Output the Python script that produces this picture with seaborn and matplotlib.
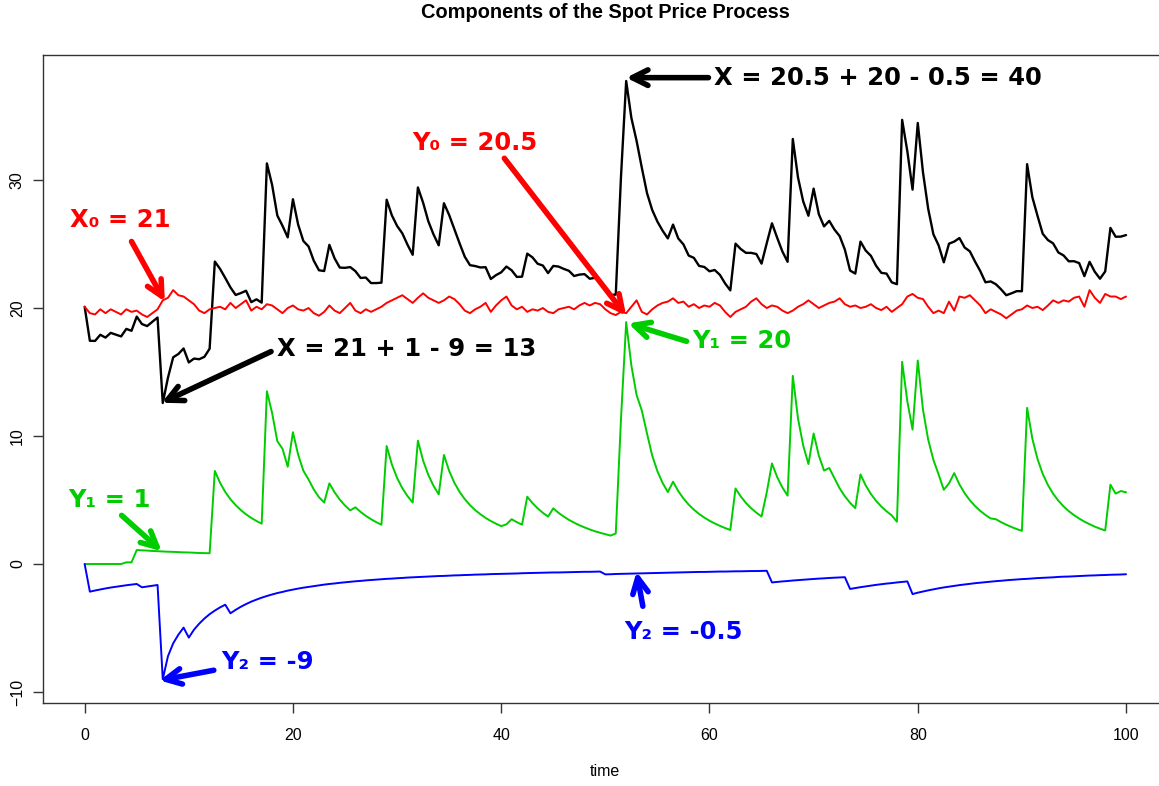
import numpy as np
import matplotlib
matplotlib.use("Agg")
import matplotlib.pyplot as plt
import seaborn as sns

# time grid (step 0.5)
time = np.linspace(0, 100, 201)

# Y0 : mean level (red)
y0_red = [
    20.1, 19.6, 19.5, 19.9, 19.6, 19.9, 19.7, 19.5, 19.9, 19.7, 19.8, 19.5, 19.3, 19.6, 19.9, 20.6, 20.8, 21.4, 21.0, 20.9,
    20.6, 20.3, 19.8, 19.6, 19.9, 20.0, 20.1, 19.9, 20.4, 20.0, 20.3, 20.6, 19.8, 20.1, 19.9, 20.3, 20.2, 19.9, 19.6, 20.0,
    20.2, 19.9, 19.8, 20.0, 19.6, 19.4, 19.7, 20.2, 19.8, 19.6, 20.0, 20.4, 19.8, 19.6, 19.9, 19.7, 19.9, 20.1, 20.4, 20.6,
    20.8, 21.0, 20.7, 20.4, 20.8, 21.15, 20.8, 20.6, 20.4, 20.6, 20.9, 20.7, 20.3, 19.8, 19.6, 19.9, 20.1, 20.4, 19.7, 20.2,
    20.6, 20.9, 20.2, 19.9, 20.1, 19.7, 19.9, 19.8, 20.0, 19.7, 19.6, 19.9, 20.0, 20.1, 19.9, 20.2, 20.4, 20.2, 20.4, 20.3,
    19.9, 19.6, 19.45, 19.7, 19.6, 20.1, 20.6, 19.7, 19.5, 19.9, 20.2, 20.4, 20.5, 20.76, 20.4, 20.5, 20.1, 20.3, 20.0, 20.2,
    20.1, 20.4, 20.2, 19.7, 19.3, 19.7, 19.9, 20.1, 20.5, 20.76, 20.3, 20.0, 20.2, 20.1, 19.8, 19.6, 19.8, 20.1, 20.3, 20.6,
    20.3, 20.0, 20.2, 20.4, 20.5, 20.76, 20.3, 20.1, 20.2, 20.0, 20.1, 20.3, 20.0, 19.84, 20.1, 19.7, 20.0, 20.3, 20.9, 21.1,
    20.8, 20.7, 20.1, 19.6, 19.8, 19.6, 20.5, 19.8, 20.9, 20.8, 21.0, 20.6, 20.2, 19.6, 19.9, 19.7, 19.5, 19.2, 19.5, 19.8,
    19.9, 20.2, 20.0, 20.1, 19.84, 20.2, 20.6, 20.4, 20.6, 20.5, 20.8, 20.9, 20.1, 21.4, 20.8, 20.4, 21.1, 20.9, 20.9, 20.7,
    20.9,
]

# Y1 : positive spikes (green)
y1_green = [
    0, 0, 0, 0, 0, 0, 0, 0, 0.13, 0.13, 1.09, 1.07, 1.05, 1.02, 1.00, 0.98, 0.96, 0.95, 0.93, 0.91,
    0.90, 0.88, 0.86, 0.85, 0.84, 7.27, 6.35, 5.63, 5.06, 4.60, 4.21, 3.88, 3.60, 3.36, 3.15, 13.5, 11.8, 9.6, 9.0, 7.6,
    10.3, 8.54, 7.29, 6.6, 5.83, 5.22, 4.8, 6.3, 5.60, 5.03, 4.57, 4.19, 4.43, 4.07, 3.76, 3.50, 3.27, 3.07, 9.22, 7.78,
    6.73, 5.93, 5.31, 4.80, 9.64, 8.08, 6.96, 6.11, 5.44, 8.52, 7.28, 6.35, 5.64, 5.07, 4.60, 4.21, 3.89, 3.60, 3.36, 3.15,
    2.96, 3.10, 3.50, 3.27, 3.07, 5.26, 4.76, 4.35, 4.00, 3.70, 4.35, 4.00, 3.71, 3.45, 3.23, 3.03, 2.86, 2.70, 2.56, 2.44,
    2.33, 2.22, 2.38, 11.3, 18.9, 15.5, 13.2, 12.0, 10.2, 8.47, 7.25, 6.33, 5.62, 6.43, 5.70, 5.12, 4.64, 4.25, 3.91, 3.63,
    3.38, 3.17, 2.98, 2.81, 2.66, 5.90, 5.28, 4.77, 4.36, 4.01, 3.71, 5.60, 7.86, 6.79, 5.98, 5.34, 14.7, 11.36, 9.26, 7.81,
    10.2, 8.47, 7.3, 7.5, 6.7, 5.91, 5.29, 4.78, 4.37, 7.0, 6.14, 5.47, 4.93, 4.49, 4.12, 3.80, 3.3, 15.8, 12.7, 10.5,
    15.9, 12.06, 9.72, 8.14, 7.0, 5.8, 6.3, 7.1, 6.22, 5.53, 4.98, 4.53, 4.15, 3.83, 3.56, 3.50, 3.27, 3.07, 2.89, 2.73,
    2.59, 12.2, 9.80, 8.20, 7.04, 6.17, 5.49, 4.95, 4.50, 4.13, 3.82, 3.55, 3.31, 3.11, 2.92, 2.76, 2.62, 6.2, 5.5, 5.7,
    5.6,
]

# Y2 : negative spikes (blue)
y2_blue = [
    0, -2.16, -2.07, -1.99, -1.91, -1.84, -1.78, -1.72, -1.66, -1.61, -1.56, -1.82, -1.76, -1.70, -1.64, -9.0, -7.2, -6.2, -5.52, -4.97,
    -5.75, -5.13, -4.66, -4.26, -3.92, -3.64, -3.39, -3.18, -3.85, -3.58, -3.34, -3.13, -2.94, -2.78, -2.63, -2.50, -2.38, -2.27, -2.18, -2.08,
    -2.00, -1.92, -1.85, -1.79, -1.73, -1.67, -1.61, -1.56, -1.52, -1.47, -1.43, -1.39, -1.35, -1.32, -1.28, -1.25, -1.22, -1.19, -1.16, -1.14,
    -1.11, -1.09, -1.06, -1.04, -1.02, -1.00, -0.98, -0.96, -0.94, -0.93, -0.91, -0.89, -0.88, -0.86, -0.85, -0.83, -0.82, -0.81, -0.79, -0.78,
    -0.77, -0.76, -0.75, -0.74, -0.72, -0.71, -0.70, -0.69, -0.68, -0.67, -0.66, -0.66, -0.65, -0.64, -0.63, -0.62, -0.61, -0.61, -0.60, -0.59,
    -0.81, -0.80, -0.78, -0.77, -0.76, -0.75, -0.74, -0.73, -0.72, -0.71, -0.70, -0.69, -0.68, -0.67, -0.66, -0.65, -0.64, -0.63, -0.62, -0.62,
    -0.61, -0.60, -0.59, -0.59, -0.58, -0.57, -0.57, -0.56, -0.55, -0.55, -0.54, -0.53, -1.44, -1.40, -1.36, -1.33, -1.29, -1.26, -1.23, -1.20,
    -1.17, -1.14, -1.12, -1.09, -1.07, -1.05, -1.03, -1.95, -1.88, -1.81, -1.75, -1.69, -1.63, -1.58, -1.53, -1.49, -1.44, -1.40, -1.36, -2.35,
    -2.24, -2.15, -2.06, -1.98, -1.90, -1.83, -1.77, -1.71, -1.65, -1.60, -1.55, -1.50, -1.46, -1.42, -1.38, -1.34, -1.31, -1.27, -1.24, -1.21,
    -1.18, -1.16, -1.13, -1.10, -1.08, -1.06, -1.04, -1.01, -0.99, -0.98, -0.96, -0.94, -0.92, -0.90, -0.89, -0.87, -0.86, -0.84, -0.83, -0.82,
    -0.80,
]

# spot price X = Y0 + Y1 + Y2
x_spot = np.array(y0_red) + np.array(y1_green) + np.array(y2_blue)

# annotations: (text, colour, text position, arrow tail, arrow head)
notes = [
    ("X₀ = 21", "#ff0000", (-1.45, 26.9), (4.5, 25.2), (7.7, 20.5)),
    ("Y₀ = 20.5", "#ff0000", (31.5, 32.9), (40.3, 31.7), (52.0, 19.4)),
    ("X = 20.5 + 20 - 0.5 = 40", "black", (60.4, 38.0), (59.9, 38.0), (52.0, 38.0)),
    ("X = 21 + 1 - 9 = 13", "black", (18.5, 16.8), (17.9, 16.6), (7.4, 12.6)),
    ("Y₁ = 20", "#00cd00", (58.3, 17.4), (57.8, 17.4), (52.2, 18.8)),
    ("Y₁ = 1", "#00cd00", (-1.55, 5.0), (3.55, 3.8), (7.4, 1.0)),
    ("Y₂ = -9", "#0000ff", (13.1, -7.66), (12.4, -8.3), (7.2, -9.1)),
    ("Y₂ = -0.5", "#0000ff", (51.8, -5.3), (53.6, -3.3), (53.0, -0.6)),
]

sns.set_style("white")
plt.rcParams['font.family'] = ['Liberation Sans', 'DejaVu Sans']

W, H = 1159, 786
fig = plt.figure(figsize=(W / 100, H / 100), dpi=100)
ax = fig.add_axes([43 / W, 83 / H, 1124.7 / W, 648 / H])

sns.lineplot(x=time, y=x_spot, color="black", lw=1.7, ax=ax)
sns.lineplot(x=time, y=y0_red, color="#ff0000", lw=1.4, ax=ax)
sns.lineplot(x=time, y=y1_green, color="#00cd00", lw=1.4, ax=ax)
sns.lineplot(x=time, y=y2_blue, color="#0000ff", lw=1.4, ax=ax)

for txt, col, pos, tail, head in notes:
    ax.annotate("", xy=head, xytext=tail,
                arrowprops=dict(arrowstyle="->", color=col, lw=4,
                                mutation_scale=28, shrinkA=0, shrinkB=0))
    ax.text(pos[0], pos[1], txt, color=col, fontsize=17.5, fontweight="bold",
            family="DejaVu Sans", ha="left", va="center")

ax.set_xlim(-4, 104)
ax.set_ylim(-10.86, 39.77)
ax.set_xticks([0, 20, 40, 60, 80, 100])
ax.set_yticks([-10, 0, 10, 20, 30])
ax.set_xlabel("")
ax.set_ylabel("")
ax.tick_params(axis="both", direction="out", length=7, width=1, color="#333333",
               labelsize=11.5, labelcolor="black", bottom=True, left=True)
ax.tick_params(axis="x", pad=11)
ax.tick_params(axis="y", pad=6)
for lbl in ax.get_yticklabels():
    lbl.set_rotation(90)
    lbl.set_va("center")
for sp in ax.spines.values():
    sp.set_visible(True)
    sp.set_color("#333333")
    sp.set_linewidth(1)

fig.text(605 / W, 1 - 13 / H, "Components of the Spot Price Process",
         ha="center", va="center", fontsize=14.4, fontweight="bold", color="black")
fig.text(605 / W, 1 - 772 / H, "time", ha="center", va="center", fontsize=11.5,
         color="black")

fig.savefig("out.png", dpi=100)
